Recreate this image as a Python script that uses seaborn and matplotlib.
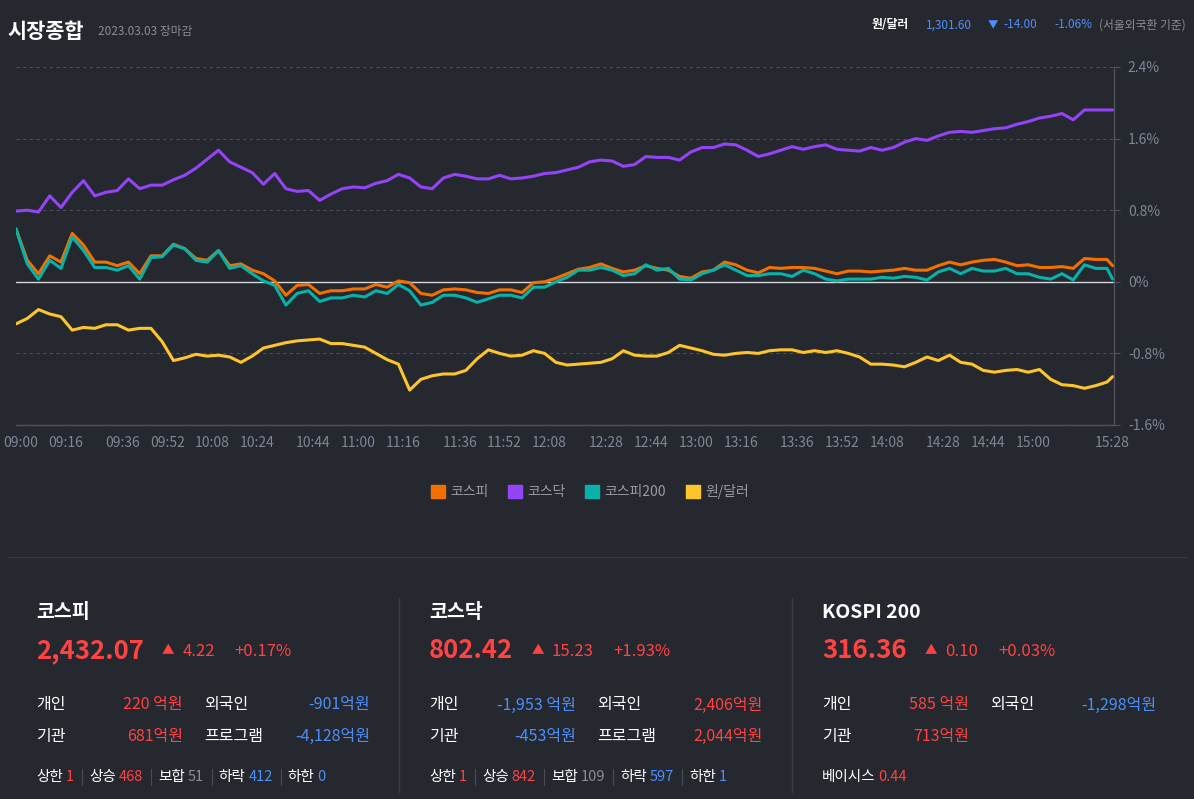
import matplotlib
matplotlib.use('Agg')
import numpy as np
import pandas as pd
import matplotlib.pyplot as plt
import seaborn as sns
from matplotlib.lines import Line2D
from matplotlib.patches import Patch
from matplotlib.transforms import ScaledTranslation

# 09:00 기준 경과 시간(분)
minutes = [0, 4, 8, 12, 16, 20, 24, 28, 32, 36, 40, 44, 48, 52, 56, 60, 64, 68, 72, 76,
           80, 84, 88, 92, 96, 100, 104, 108, 112, 116, 120, 124, 128, 132, 136, 140, 144, 148, 152, 156,
           160, 164, 168, 172, 176, 180, 184, 188, 192, 196, 200, 204, 208, 212, 216, 220, 224, 228, 232, 236,
           240, 244, 248, 252, 256, 260, 264, 268, 272, 276, 280, 284, 288, 292, 296, 300, 304, 308, 312, 316,
           320, 324, 328, 332, 336, 340, 344, 348, 352, 356, 360, 364, 368, 372, 376, 380, 384, 388, 390]

kospi = [0.59, 0.24, 0.09, 0.29, 0.22, 0.54, 0.41, 0.22, 0.22, 0.18, 0.22, 0.09, 0.29, 0.29, 0.42, 0.37, 0.26, 0.24, 0.35, 0.18,
         0.20, 0.13, 0.09, 0.01, -0.15, -0.04, -0.03, -0.13, -0.10, -0.10, -0.08, -0.08, -0.03, -0.06, 0.01, -0.01, -0.13, -0.15, -0.09, -0.08,
         -0.09, -0.12, -0.13, -0.09, -0.09, -0.12, -0.01, 0.00, 0.04, 0.09, 0.14, 0.16, 0.20, 0.15, 0.11, 0.13, 0.18, 0.15, 0.13, 0.06,
         0.04, 0.11, 0.13, 0.22, 0.19, 0.13, 0.10, 0.16, 0.15, 0.16, 0.16, 0.15, 0.12, 0.09, 0.12, 0.12, 0.11, 0.12, 0.13, 0.15,
         0.13, 0.13, 0.18, 0.22, 0.19, 0.22, 0.24, 0.25, 0.22, 0.18, 0.19, 0.16, 0.16, 0.17, 0.15, 0.26, 0.25, 0.25, 0.18]

kosdaq = [0.79, 0.80, 0.78, 0.96, 0.83, 1.00, 1.13, 0.96, 1.00, 1.02, 1.15, 1.04, 1.08, 1.08, 1.14, 1.19, 1.27, 1.37, 1.47, 1.34,
          1.28, 1.22, 1.09, 1.21, 1.04, 1.01, 1.02, 0.91, 0.98, 1.04, 1.06, 1.05, 1.10, 1.13, 1.20, 1.16, 1.06, 1.04, 1.16, 1.20,
          1.18, 1.15, 1.15, 1.19, 1.15, 1.16, 1.18, 1.21, 1.22, 1.25, 1.28, 1.34, 1.36, 1.35, 1.29, 1.31, 1.40, 1.39, 1.39, 1.36,
          1.45, 1.50, 1.50, 1.54, 1.53, 1.47, 1.40, 1.43, 1.47, 1.51, 1.48, 1.51, 1.53, 1.48, 1.47, 1.46, 1.50, 1.47, 1.50, 1.56,
          1.60, 1.58, 1.63, 1.67, 1.68, 1.67, 1.69, 1.71, 1.72, 1.76, 1.79, 1.83, 1.85, 1.88, 1.81, 1.92, 1.92, 1.92, 1.92]

kospi200 = [0.59, 0.20, 0.03, 0.24, 0.15, 0.50, 0.35, 0.16, 0.16, 0.13, 0.18, 0.03, 0.27, 0.28, 0.41, 0.37, 0.24, 0.22, 0.35, 0.15,
            0.18, 0.09, 0.01, -0.04, -0.26, -0.13, -0.10, -0.22, -0.18, -0.18, -0.15, -0.17, -0.10, -0.13, -0.03, -0.10, -0.26, -0.23, -0.15, -0.15,
            -0.18, -0.23, -0.19, -0.15, -0.15, -0.18, -0.06, -0.06, 0.00, 0.05, 0.13, 0.13, 0.16, 0.13, 0.07, 0.09, 0.19, 0.13, 0.15, 0.03,
            0.02, 0.09, 0.13, 0.19, 0.13, 0.07, 0.07, 0.09, 0.09, 0.06, 0.13, 0.09, 0.03, 0.01, 0.03, 0.03, 0.03, 0.05, 0.04, 0.06,
            0.05, 0.02, 0.11, 0.15, 0.09, 0.15, 0.12, 0.12, 0.15, 0.09, 0.09, 0.05, 0.03, 0.09, 0.02, 0.19, 0.15, 0.15, 0.03]

usdkrw = [-0.47, -0.41, -0.31, -0.36, -0.39, -0.54, -0.51, -0.52, -0.48, -0.48, -0.54, -0.52, -0.52, -0.67, -0.88, -0.85, -0.81, -0.83, -0.82, -0.84,
          -0.90, -0.83, -0.74, -0.71, -0.68, -0.66, -0.65, -0.64, -0.69, -0.69, -0.71, -0.73, -0.80, -0.87, -0.92, -1.21, -1.09, -1.05, -1.03, -1.03,
          -0.99, -0.86, -0.76, -0.80, -0.83, -0.82, -0.77, -0.80, -0.90, -0.93, -0.92, -0.91, -0.90, -0.86, -0.77, -0.82, -0.83, -0.83, -0.79, -0.71,
          -0.74, -0.77, -0.81, -0.82, -0.80, -0.79, -0.80, -0.77, -0.76, -0.76, -0.79, -0.77, -0.79, -0.77, -0.80, -0.84, -0.92, -0.92, -0.93, -0.95,
          -0.90, -0.84, -0.88, -0.82, -0.90, -0.92, -0.99, -1.01, -0.99, -0.98, -1.01, -0.98, -1.09, -1.15, -1.16, -1.19, -1.16, -1.12, -1.06]

series_names = ['코스피', '코스닥', '코스피200', '원/달러']
series_colors = ['#f27000', '#9444f7', '#08b2a8', '#fdc52b']

tick_minutes = [0, 16, 36, 52, 68, 84, 104, 120, 136, 156, 172, 188, 208, 224, 240, 256, 276, 292, 308, 328, 344, 360, 388]
tick_labels = ['09:00', '09:16', '09:36', '09:52', '10:08', '10:24', '10:44', '11:00', '11:16', '11:36', '11:52', '12:08',
               '12:28', '12:44', '13:00', '13:16', '13:36', '13:52', '14:08', '14:28', '14:44', '15:00', '15:28']
y_ticks = [-1.6, -0.8, 0, 0.8, 1.6, 2.4]
y_labels = ['-1.6%', '-0.8%', '0%', '0.8%', '1.6%', '2.4%']

# 하단 지수 요약
panel_names = ['코스피', '코스닥', 'KOSPI 200']
panel_close = ['2,432.07', '802.42', '316.36']
panel_change = ['4.22', '15.23', '0.10']
panel_rate = ['+0.17%', '+1.93%', '+0.03%']
flow_labels = ['개인', '외국인', '기관', '프로그램']
flow_values = [['220 억원', '-901억원', '681억원', '-4,128억원'],
               ['-1,953 억원', '2,406억원', '-453억원', '2,044억원'],
               ['585 억원', '-1,298억원', '713억원']]
breadth_labels = ['상한', '상승', '보합', '하락', '하한']
breadth_values = [['1', '468', '51', '412', '0'],
                  ['1', '842', '109', '597', '1']]
basis_value = '0.44'

fx_rate = '1,301.60'
fx_change = '-14.00'
fx_pct = '-1.06%'

BG = '#262830'
RED = '#ff4343'
BLUE = '#4d8ff8'
GRAY = '#8b8d92'
W, H = 1194, 799

sns.set_style('dark', {'axes.facecolor': BG, 'figure.facecolor': BG})
plt.rcParams['font.family'] = ['Noto Sans CJK KR', 'DejaVu Sans']


def fx(x):
    return x / W


def fy(y):
    return 1 - y / H


fig = plt.figure(figsize=(W / 100, H / 100), dpi=100, facecolor=BG)
ax = fig.add_axes([fx(16), fy(425), (1114 - 16) / W, (425 - 67) / H])
ax.set_facecolor(BG)

df = pd.DataFrame({
    'minute': minutes * 4,
    'pct': kospi + kosdaq + kospi200 + usdkrw,
    'series': sum([[n] * len(minutes) for n in series_names], []),
})
sns.lineplot(data=df, x='minute', y='pct', hue='series', hue_order=series_names,
             palette=series_colors, linewidth=2.2, legend=False, ax=ax)

ax.set_xlim(0, 390.5)
ax.set_ylim(-1.6, 2.4)
ax.set_xlabel('')
ax.set_ylabel('')
ax.set_xticks(tick_minutes)
ax.set_xticklabels(tick_labels)
ax.set_xticks(range(0, 391, 4), minor=True)
ax.yaxis.tick_right()
ax.set_yticks(y_ticks)
ax.set_yticklabels(y_labels)
ax.grid(axis='y', color='#4b4e57', linestyle=(0, (3, 3)), linewidth=0.8)
ax.grid(axis='x', visible=False)
ax.axhline(0, color='#d4d6da', linewidth=1, zorder=1.5)
for s in ['top', 'left']:
    ax.spines[s].set_visible(False)
for s in ['right', 'bottom']:
    ax.spines[s].set_color('#50535c')
    ax.spines[s].set_linewidth(1)
ax.tick_params(axis='x', which='both', length=5, width=0.8, color='#50535c',
               labelcolor='#7d8796', labelsize=10, pad=3)
ax.tick_params(axis='y', which='both', length=4, width=0.8, color='#50535c',
               labelcolor='#7d8796', labelsize=10, pad=6, right=True, left=False)
# 시간 라벨이 눈금보다 살짝 오른쪽에 찍혀 있음
shift = ScaledTranslation(5 / 100, 0, fig.dpi_scale_trans)
for lab in ax.get_xticklabels():
    lab.set_transform(lab.get_transform() + shift)

handles = [Patch(facecolor=c, edgecolor=c) for c in series_colors]
fig.legend(handles, series_names, loc='center', bbox_to_anchor=(fx(590), fy(492)), ncol=4,
           frameon=False, fontsize=10, labelcolor='#9a9ca1', handlelength=1.0, handleheight=1.1,
           handletextpad=0.4, columnspacing=1.4)

# 상단 제목
fig.text(fx(7), fy(32), '시장종합', color='white', fontsize=15, fontweight='bold', va='center')
fig.text(fx(98), fy(32), '2023.03.03 장마감', color=GRAY, fontsize=8.5, va='center')
fig.text(fx(872), fy(25), '원/달러', color='white', fontsize=8.5, fontweight='bold', va='center')
fig.text(fx(926), fy(25), fx_rate, color=BLUE, fontsize=8.5, va='center')
fig.text(fx(993), fy(25), '▼', color=BLUE, fontsize=7.5, va='center', ha='center')
fig.text(fx(1003), fy(25), fx_change, color=BLUE, fontsize=8.5, va='center')
fig.text(fx(1054), fy(25), fx_pct, color=BLUE, fontsize=8.5, va='center')
fig.text(fx(1099), fy(25), '(서울외국환 기준)', color=GRAY, fontsize=8.5, va='center')

# 구분선
fig.add_artist(Line2D([fx(8), fx(1187)], [fy(557), fy(557)], color='#363942', linewidth=1))
for xv in [399, 792]:
    fig.add_artist(Line2D([fx(xv), fx(xv)], [fy(598), fy(792)], color='#3a3d46', linewidth=1))

renderer = fig.canvas.get_renderer()


def chain(x, y, parts):
    # parts: (text, color, size, weight, gap after)
    for txt, col, size, weight, gap in parts:
        t = fig.text(fx(x), fy(y), txt, color=col, fontsize=size, fontweight=weight, va='center')
        bb = t.get_window_extent(renderer)
        x = bb.x1 + gap
    return x


col_x = [36, 429, 822]
for i, x0 in enumerate(col_x):
    fig.text(fx(x0), fy(613), panel_names[i], color='white', fontsize=14, fontweight='bold', va='center')
    chain(x0, 651, [(panel_close[i], RED, 18.5, 'bold', 18),
                    ('▲', RED, 9, 'normal', 8),
                    (panel_change[i], RED, 12, 'normal', 20),
                    (panel_rate[i], RED, 12, 'normal', 0)])
    for j, val in enumerate(flow_values[i]):
        row_y = 705 if j < 2 else 736
        left = x0 if j % 2 == 0 else x0 + 168
        right = x0 + 147 if j % 2 == 0 else x0 + 334
        col = BLUE if val.startswith('-') else RED
        fig.text(fx(left), fy(row_y), flow_labels[j], color='white', fontsize=11.5, va='center')
        fig.text(fx(right), fy(row_y), val, color=col, fontsize=11.5, va='center', ha='right')

bcolors = [RED, RED, GRAY, BLUE, BLUE]
for i in range(2):
    x = col_x[i]
    for k, lab in enumerate(breadth_labels):
        x = chain(x, 777, [(lab, 'white', 10.5, 'normal', 3),
                           (breadth_values[i][k], bcolors[k], 10.5, 'normal', 8)])
        if k < len(breadth_labels) - 1:
            fig.add_artist(Line2D([fx(x), fx(x)], [fy(769), fy(785)], color='#4a4d55', linewidth=0.8))
            x += 7
chain(col_x[2], 777, [('베이시스', 'white', 10.5, 'normal', 3), (basis_value, RED, 10.5, 'normal', 0)])

fig.savefig('out.png', dpi=100, facecolor=BG)
